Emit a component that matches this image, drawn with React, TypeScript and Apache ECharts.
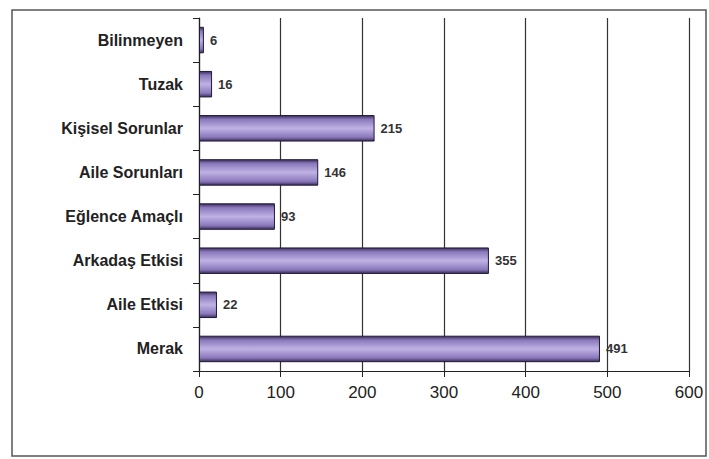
import React, { useEffect, useRef } from "react";
import * as echarts from "echarts";

const categories = [
  "Bilinmeyen",
  "Tuzak",
  "Kişisel Sorunlar",
  "Aile Sorunları",
  "Eğlence Amaçlı",
  "Arkadaş Etkisi",
  "Aile Etkisi",
  "Merak",
];
const values = [6, 16, 215, 146, 93, 355, 22, 491];
const xTicks = [0, 100, 200, 300, 400, 500, 600];

export default function App() {
  const ref = useRef<HTMLDivElement>(null);
  useEffect(() => {
    if (!ref.current) return;
    const chart = echarts.init(ref.current, null, { renderer: "svg" });
    chart.setOption({
      animation: false,
      backgroundColor: "#ffffff",
      textStyle: { fontFamily: "Liberation Sans, Arial, sans-serif" },
      graphic: [
        {
          type: "rect",
          shape: { x: 12, y: 10, width: 694, height: 446 },
          style: { fill: "none", stroke: "#555", lineWidth: 1.5 },
          silent: true,
        },
      ],
      grid: { left: 199, right: 20, top: 18, bottom: 88, containLabel: false },
      xAxis: {
        type: "value",
        min: xTicks[0],
        max: xTicks[xTicks.length - 1],
        interval: 100,
        axisLine: { show: true, lineStyle: { color: "#222", width: 1.2 } },
        axisTick: { show: true, length: 6, lineStyle: { color: "#222" } },
        splitLine: { show: true, lineStyle: { color: "#333", width: 1.2 } },
        axisLabel: {
          color: "#222",
          fontSize: 17,
          margin: 13,
        },
      },
      yAxis: {
        type: "category",
        data: categories,
        inverse: true,
        axisLine: { show: true, lineStyle: { color: "#222", width: 1.2 } },
        axisTick: { show: true, length: 6, lineStyle: { color: "#222" } },
        axisLabel: {
          color: "#222",
          fontSize: 16,
          fontWeight: "bold",
          margin: 16,
        },
      },
      series: [
        {
          type: "bar",
          data: values,
          barCategoryGap: "40%",
          itemStyle: {
            color: new echarts.graphic.LinearGradient(0, 0, 0, 1, [
              { offset: 0, color: "#3b2f5e" },
              { offset: 0.15, color: "#8a78bb" },
              { offset: 0.5, color: "#c0b2e4" },
              { offset: 0.85, color: "#8a78bb" },
              { offset: 1, color: "#3b2f5e" },
            ]),
            borderColor: "#221a35",
            borderWidth: 1,
          },
          label: {
            show: true,
            position: "right",
            distance: 6,
            color: "#333",
            fontSize: 13,
            fontWeight: "bold",
          },
        },
      ],
    });
    return () => chart.dispose();
  }, []);
  return (
    <div
      ref={ref}
      style={{ position: "absolute", left: 0, top: 0, width: 709, height: 459 }}
    />
  );
}
